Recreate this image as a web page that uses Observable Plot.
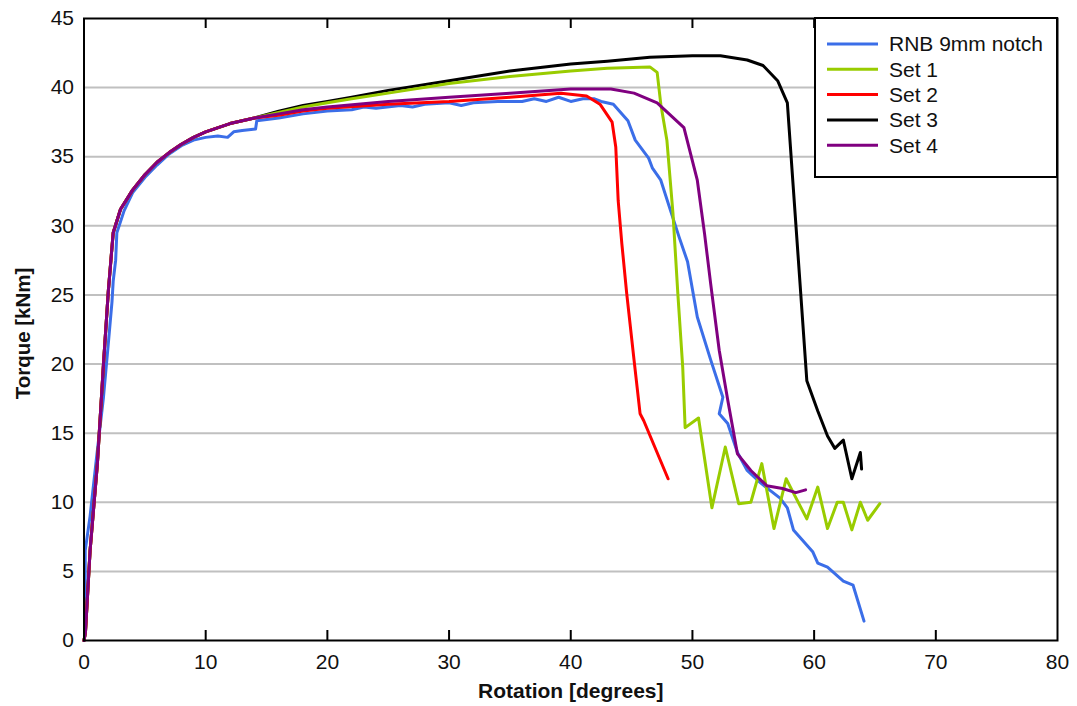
<!DOCTYPE html>
<html>
<head>
<meta charset="utf-8">
<script src="https://cdn.jsdelivr.net/npm/d3@7"></script>
<script src="https://cdn.jsdelivr.net/npm/@observablehq/plot@0.6"></script>
<style>
  body { margin: 0; background: #fff; }
  svg { font-family: "Liberation Sans", Arial, sans-serif; }
</style>
</head>
<body>
<script>
// ---- data ----
const xTicks = [0, 10, 20, 30, 40, 50, 60, 70, 80];
const yTicks = [0, 5, 10, 15, 20, 25, 30, 35, 40, 45];
const seriesNames = ["RNB 9mm notch", "Set 1", "Set 2", "Set 3", "Set 4"];
const seriesColors = ["#3b6ee8", "#99cc00", "#ff0000", "#000000", "#800080"];

const riseX = [0, 0.12, 0.5, 1.1, 1.6, 2.0, 2.4, 3.0, 4.0, 5.0, 6.0, 7.0, 8.0, 9.0, 10.0, 12.0, 14.0];
const riseY = [0, 0.6, 6.5, 12.8, 20.0, 25.3, 29.5, 31.2, 32.6, 33.7, 34.6, 35.3, 35.9, 36.4, 36.8, 37.4, 37.8];

const rnbX = [0, 0.1, 0.1, 0.5, 1.0, 1.6, 2.0, 2.3, 2.4, 2.6, 2.7, 3.3, 4.0, 5.0, 6.0, 7.0, 8.0, 9.0, 10.0, 11.0, 11.8, 12.3, 13.0, 14.1, 14.2, 16, 18, 20, 22, 23, 24, 26, 27, 28, 30, 31, 32, 34, 36, 37, 38, 39, 40, 41.0, 41.9, 42.5, 43.5, 44.7, 45.3, 46.4, 46.7, 47.4, 48.2, 48.9, 49.6, 50.4, 51.5, 52.5, 52.2, 52.9, 53.7, 54.5, 55.6, 57.2, 57.8, 58.3, 59.9, 60.3, 61.1, 62.4, 63.2, 64.1];
const rnbY = [0, 0.5, 6.5, 9.0, 13.0, 17.6, 21.5, 24.5, 26.0, 27.5, 29.5, 31.1, 32.4, 33.5, 34.4, 35.2, 35.8, 36.2, 36.4, 36.5, 36.4, 36.8, 36.9, 37.0, 37.6, 37.8, 38.1, 38.3, 38.4, 38.6, 38.5, 38.7, 38.6, 38.8, 38.9, 38.7, 38.9, 39.0, 39.0, 39.2, 39.0, 39.3, 39.0, 39.2, 39.2, 39.0, 38.8, 37.6, 36.2, 34.9, 34.2, 33.3, 31.1, 29.2, 27.4, 23.4, 20.3, 17.6, 16.4, 15.7, 13.6, 12.3, 11.4, 10.3, 9.6, 8.0, 6.4, 5.6, 5.3, 4.3, 4.0, 1.4];

const set1X = [16, 18, 20, 22, 25, 30, 35, 40, 43, 46.5, 47.1, 47.4, 47.9, 48.4, 48.8, 49.2, 49.4, 50.5, 51.6, 52.7, 53.8, 54.8, 55.7, 56.7, 57.7, 58.4, 59.4, 60.3, 61.1, 61.9, 62.4, 63.1, 63.8, 64.4, 65.4];
const set1Y = [38.2, 38.6, 38.9, 39.2, 39.6, 40.3, 40.8, 41.2, 41.4, 41.5, 41.1, 38.8, 36.2, 30.9, 25.1, 19.8, 15.4, 16.1, 9.6, 14.0, 9.9, 10.0, 12.8, 8.1, 11.7, 10.5, 8.8, 11.1, 8.1, 10.0, 10.0, 8.0, 10.0, 8.7, 9.9];

const set2X = [16, 18, 20, 25, 30, 35, 39.2, 41.3, 42.4, 43.4, 43.7, 43.9, 44.2, 44.6, 45.2, 45.7, 46.0, 48.0];
const set2Y = [38.0, 38.3, 38.5, 38.8, 39.0, 39.3, 39.6, 39.4, 38.8, 37.5, 35.7, 31.8, 28.7, 25.1, 20.3, 16.4, 15.9, 11.7];

const set3X = [16, 18, 20, 22, 25, 30, 35, 40, 43, 46.5, 50, 52.3, 54.5, 55.8, 57.0, 57.8, 58.3, 58.9, 59.4, 60.3, 61.1, 61.7, 62.4, 63.1, 63.8, 63.9];
const set3Y = [38.3, 38.7, 39.0, 39.3, 39.8, 40.5, 41.2, 41.7, 41.9, 42.2, 42.3, 42.3, 42.0, 41.6, 40.5, 38.9, 32.6, 25.1, 18.8, 16.6, 14.8, 13.9, 14.5, 11.7, 13.6, 12.4];

const set4X = [16, 18, 20, 25, 30, 35, 40, 43.3, 45.2, 47.1, 49.3, 50.4, 51.0, 51.5, 52.2, 52.9, 53.7, 54.8, 56.1, 57.4, 58.5, 59.3];
const set4Y = [38.1, 38.4, 38.6, 39.0, 39.3, 39.6, 39.9, 39.9, 39.6, 38.9, 37.1, 33.3, 29.4, 25.8, 21.0, 17.4, 13.5, 12.3, 11.2, 11.0, 10.7, 10.9];

// ---- build table ----
function rows(name, xs, ys) { return xs.map((x, i) => ({ series: name, x, y: ys[i] })); }
const data = [
  ...rows(seriesNames[0], rnbX, rnbY),
  ...rows(seriesNames[1], riseX.concat(set1X), riseY.concat(set1Y)),
  ...rows(seriesNames[2], riseX.concat(set2X), riseY.concat(set2Y)),
  ...rows(seriesNames[3], riseX.concat(set3X), riseY.concat(set3Y)),
  ...rows(seriesNames[4], riseX.concat(set4X), riseY.concat(set4Y))
];
const drawOrder = [seriesNames[0], seriesNames[3], seriesNames[1], seriesNames[2], seriesNames[4]];

const W = 1077, H = 706, mL = 83.5, mR = 20, mT = 18, mB = 66;
const frameH = H - mT - mB;

const chart = Plot.plot({
  width: W, height: H,
  marginLeft: mL, marginRight: mR, marginTop: mT, marginBottom: mB,
  style: { fontFamily: '"Liberation Sans", Arial, sans-serif', background: "#fff" },
  x: { domain: [0, 80], ticks: xTicks },
  y: { domain: [0, 45], ticks: yTicks },
  color: { domain: seriesNames, range: seriesColors },
  marks: [
    Plot.gridY(yTicks.slice(1, -1), { stroke: "#c0c0c0", strokeOpacity: 1, strokeWidth: 2 }),
    Plot.axisX(xTicks, { tickSize: 0, tickPadding: 14, fontSize: 21, label: null, fill: "#111" }),
    Plot.axisY(yTicks, { tickSize: 0, tickPadding: 10, fontSize: 21, label: null, fill: "#111" }),
    ...drawOrder.map(s => Plot.line(data.filter(d => d.series === s), { x: "x", y: "y", stroke: "series", strokeWidth: 3, strokeLinejoin: "round" })),
    Plot.ruleX(xTicks.slice(1, -1), { stroke: "#000", strokeWidth: 2, insetTop: frameH - 10 }),
    Plot.ruleX(xTicks.slice(1, -1), { stroke: "#000", strokeWidth: 2, insetBottom: frameH - 10 }),
    Plot.frame({ stroke: "#000", strokeWidth: 2 }),
    Plot.text(["Rotation [degrees]"], { frameAnchor: "bottom", dy: 51, textAnchor: "middle", lineAnchor: "middle", fontWeight: "bold", fontSize: 21, fill: "#111" }),
    Plot.text(["Torque [kNm]"], { frameAnchor: "left", dx: -61, dy: 4, textAnchor: "middle", lineAnchor: "middle", rotate: -90, fontWeight: "bold", fontSize: 20.5, fill: "#111" })
  ]
});
document.body.appendChild(chart);

// ---- legend box (top-right, inside the frame) ----
const svg = d3.select(chart);
const lg = svg.append("g").attr("text-anchor", "start");
lg.append("rect").attr("x", 815).attr("y", mT).attr("width", W - mR - 815).attr("height", 159)
  .attr("fill", "#fff").attr("stroke", "#000").attr("stroke-width", 2);
seriesNames.forEach((name, i) => {
  const yy = 44 + i * 25.3;
  lg.append("line").attr("x1", 827).attr("x2", 878).attr("y1", yy).attr("y2", yy)
    .attr("stroke", seriesColors[i]).attr("stroke-width", 3);
  lg.append("text").attr("x", 889).attr("y", yy).attr("dy", "0.35em")
    .attr("text-anchor", "start")
    .attr("font-size", 21).attr("fill", "#111").text(name);
});
</script>
</body>
</html>
